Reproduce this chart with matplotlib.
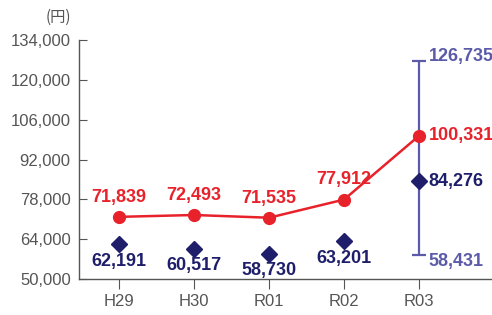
import numpy as np
import matplotlib.pyplot as plt
import matplotlib
matplotlib.rcParams['axes.unicode_minus'] = False
plt.rcParams['font.family'] = ['Liberation Sans', 'Noto Sans CJK JP', 'DejaVu Sans']

years = ["H29", "H30", "R01", "R02", "R03"]
avg = [71839, 72493, 71535, 77912, 100331]      # red line
median = [62191, 60517, 58730, 63201, 84276]    # navy diamonds
r03_max = 126735
r03_min = 58431

RED = "#e8222b"
NAVY = "#1e1e6b"
PURPLE = "#5b5baa"
GRAY = "#555555"

fig = plt.figure(figsize=(4.92, 3.15), dpi=100)
ax = fig.add_axes([0.1606, 0.1143, 0.8394, 0.7587])
x = np.arange(len(years))

# R03 range bar
ax.errorbar(x[-1], median[-1], yerr=[[median[-1] - r03_min], [r03_max - median[-1]]],
            fmt="none", ecolor=PURPLE, elinewidth=1.6, capsize=5, capthick=1.6, zorder=1)
ax.plot(x, avg, "-o", color=RED, lw=1.8, ms=8.5, zorder=3)
ax.plot(x, median, "D", color=NAVY, ms=8, zorder=4)

fs = 13
kw = dict(textcoords="offset points", fontsize=fs, weight="bold")
for i in range(4):
    ax.annotate(f"{avg[i]:,}", (x[i], avg[i]), xytext=(0, 8),
                ha="center", va="bottom", color=RED, **kw)
    ax.annotate(f"{median[i]:,}", (x[i], median[i]), xytext=(0, -6),
                ha="center", va="top", color=NAVY, **kw)
i = 4
ax.annotate(f"{avg[i]:,}", (x[i], avg[i]), xytext=(7, 0),
            ha="left", va="center", color=RED, **kw)
ax.annotate(f"{median[i]:,}", (x[i], median[i]), xytext=(7, 0),
            ha="left", va="center", color=NAVY, **kw)
ax.annotate(f"{r03_max:,}", (x[i], r03_max), xytext=(7, 3),
            ha="left", va="center", color=PURPLE, **kw)
ax.annotate(f"{r03_min:,}", (x[i], r03_min), xytext=(7, -5),
            ha="left", va="center", color=PURPLE, **kw)

ax.set_ylim(50000, 134000)
ax.set_xlim(-0.533, 4.973)
yt = np.arange(50000, 134001, 14000)
ax.set_yticks(yt)
ax.set_yticklabels([f"{v:,}" for v in yt], fontsize=12, color=GRAY)
ax.set_xticks(x)
ax.set_xticklabels(years, fontsize=12, color=GRAY)
ax.tick_params(axis="y", direction="in", length=6, color=GRAY, pad=6)
ax.tick_params(axis="x", direction="out", length=7, color=GRAY, pad=4)
for s in ["top", "right"]:
    ax.spines[s].set_visible(False)
for s in ["left", "bottom"]:
    ax.spines[s].set_color(GRAY)
    ax.spines[s].set_linewidth(1.0)

fig.text(58 / 492, 1 - 17 / 315, "(円)", ha="center", va="center", fontsize=11, color=GRAY,
         family=["Noto Sans CJK JP", "DejaVu Sans"])

fig.savefig("out.png", dpi=100)
